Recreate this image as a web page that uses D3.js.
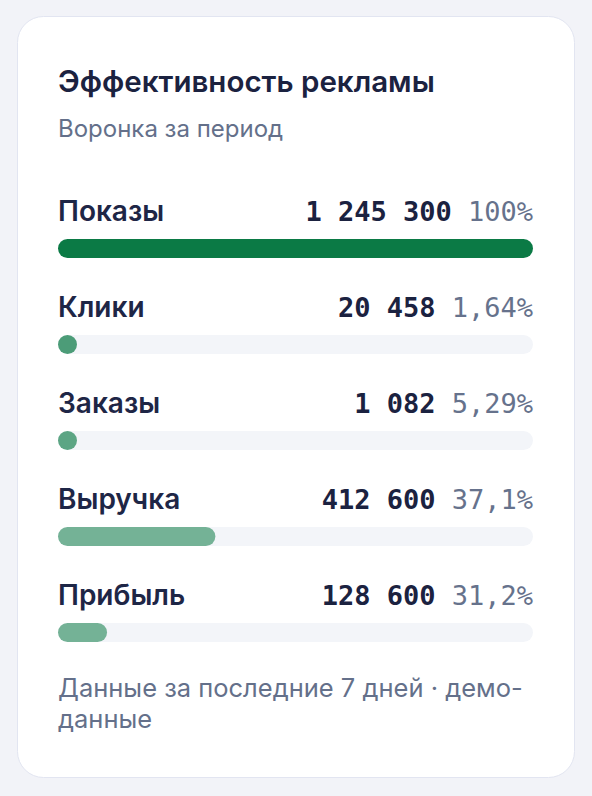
<!DOCTYPE html>
<html>
<head>
<meta charset="utf-8">
<script src="https://cdn.jsdelivr.net/npm/d3@7"></script>
<style>
  html, body { margin: 0; padding: 0; background: #f2f3f8; }
  #chart { width: 592px; height: 796px; }
</style>
</head>
<body>
<div id="chart"></div>
<script>
// dados do funil
const labels = ["Показы", "Клики", "Заказы", "Выручка", "Прибыль"];
const values = [1245300, 20458, 1082, 412600, 128600];
const shares = ["100%", "1,64%", "5,29%", "37,1%", "31,2%"];

const title = "Эффективность рекламы";
const subtitle = "Воронка за период";
const footer = ["Данные за последние 7 дней · демо-", "данные"];

// opacidade das barras (estilo)
const barOpacity = [1, 0.72, 0.65, 0.55, 0.55];

const W = 592, H = 796;
const left = 58, right = 533;
const barH = 19;

const fmt = (v) => d3.format(",")(v).replace(/,/g, " ");

const svg = d3.select("#chart").append("svg")
  .attr("width", W)
  .attr("height", H);

// card
svg.append("rect")
  .attr("x", 17.5).attr("y", 16.5)
  .attr("width", 557).attr("height", 761)
  .attr("rx", 26)
  .attr("fill", "#fff")
  .attr("stroke", "#e2e5f1");

svg.append("text")
  .attr("x", left).attr("y", 92)
  .attr("font-family", "Inter")
  .attr("font-weight", 600)
  .attr("font-size", 29.5)
  .attr("fill", "#1b2240")
  .text(title);

svg.append("text")
  .attr("x", left).attr("y", 137)
  .attr("font-family", "Inter")
  .attr("font-size", 24)
  .attr("fill", "#64708a")
  .text(subtitle);

// escala x
const x = d3.scaleLinear()
  .domain([0, d3.max(values)])
  .range([0, right - left]);

const y = d3.scaleBand()
  .domain(labels)
  .range([186, 186 + 96 * labels.length]);

const rows = svg.selectAll("g.row")
  .data(labels)
  .enter()
  .append("g")
  .attr("class", "row")
  .attr("transform", (d) => `translate(0,${y(d)})`);

rows.append("text")
  .attr("x", left).attr("y", 35)
  .attr("font-family", "Inter")
  .attr("font-weight", 600)
  .attr("font-size", 28)
  .attr("fill", "#1e2646")
  .text((d) => d);

const valText = rows.append("text")
  .attr("x", right).attr("y", 35)
  .attr("text-anchor", "end")
  .attr("font-family", "DejaVu Sans Mono")
  .attr("font-size", 27);

valText.append("tspan")
  .attr("font-weight", 700)
  .attr("fill", "#1b2240")
  .text((d, i) => fmt(values[i]) + " ");

valText.append("tspan")
  .attr("fill", "#66728c")
  .text((d, i) => shares[i]);

// trilho
rows.append("rect")
  .attr("x", left).attr("y", 53)
  .attr("width", right - left).attr("height", barH)
  .attr("rx", barH / 2)
  .attr("fill", "#f3f5f9");

// barras
rows.append("rect")
  .attr("x", left).attr("y", 53)
  .attr("width", (d, i) => Math.max(barH, x(values[i])))
  .attr("height", barH)
  .attr("rx", barH / 2)
  .attr("fill", "#0b7a45")
  .attr("fill-opacity", (d, i) => barOpacity[i]);

const foot = svg.append("text")
  .attr("font-family", "Inter")
  .attr("font-size", 25.5)
  .attr("fill", "#64708a");

foot.selectAll("tspan")
  .data(footer)
  .enter()
  .append("tspan")
  .attr("x", left)
  .attr("y", (d, i) => 697 + i * 31)
  .text((d) => d);
</script>
</body>
</html>
